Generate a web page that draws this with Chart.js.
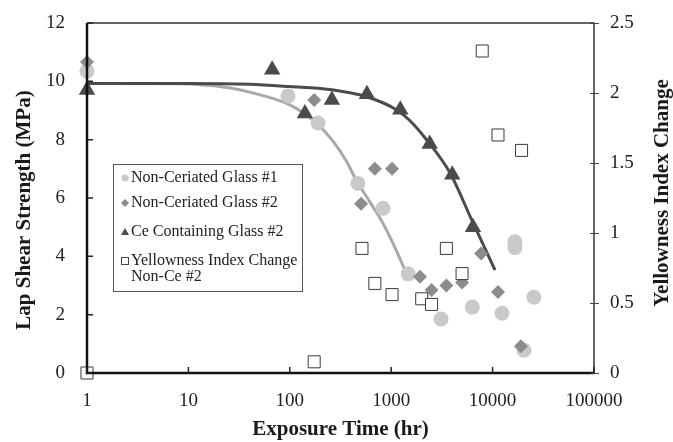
<!DOCTYPE html>
<html>
<head>
<meta charset="utf-8">
<script src="https://cdn.jsdelivr.net/npm/chart.js@4.4.1/dist/chart.umd.min.js"></script>
<style>
  html, body { margin: 0; padding: 0; background: #fff; }
</style>
</head>
<body>
<canvas id="grafico" width="673" height="442"></canvas>
<script>
const FONTE = "'Liberation Serif', 'Times New Roman', serif";

// eixo x (hr)
const tickHoras = [1, 10, 100, 1000, 10000, 100000];

// Non-Ceriated Glass #1
const horasVidro1 = [1, 96, 190, 470, 830, 1470, 3100, 6300, 12400, 16600, 16600, 20400, 25500];
const forcaVidro1 = [10.35, 9.5, 8.57, 6.5, 5.65, 3.4, 1.85, 2.26, 2.05, 4.5, 4.3, 0.78, 2.6];

// Non-Ceriated Glass #2
const horasVidro2 = [1, 174, 505, 690, 1020, 1920, 2500, 3500, 5000, 7700, 11300, 19000];
const forcaVidro2 = [10.66, 9.36, 5.8, 7.0, 7.0, 3.3, 2.85, 3.0, 3.1, 4.1, 2.78, 0.92];

// Ce Containing Glass #2
const horasCe = [1, 67, 141, 260, 577, 1230, 2400, 4000, 6400];
const forcaCe = [9.7, 10.4, 8.9, 9.36, 9.56, 9.03, 7.85, 6.8, 5.0];

// Yellowness Index Change Non-Ce #2 (eixo direito)
const horasAmarelo = [1, 174, 515, 690, 1020, 2000, 2500, 3500, 5000, 7900, 11300, 19300];
const indiceAmarelo = [0, 0.08, 0.89, 0.64, 0.56, 0.53, 0.49, 0.89, 0.71, 2.30, 1.70, 1.59];

// curvas de ajuste
const horasAjuste1 = [1, 8, 25, 40, 100, 184, 269, 364, 457, 618, 806, 1050, 1368];
const forcaAjuste1 = [9.93, 9.92, 9.78, 9.63, 9.19, 8.56, 7.93, 7.24, 6.58, 5.86, 5.21, 4.42, 3.53];

const horasAjusteCe = [1, 10, 40, 100, 249, 573, 1133, 1532, 2240, 3820, 6220, 10570];
const forcaAjusteCe = [9.93, 9.93, 9.9, 9.82, 9.72, 9.47, 9.02, 8.65, 7.99, 6.85, 5.25, 3.53];

const ticksForca = [0, 2, 4, 6, 8, 10, 12];
const ticksAmarelo = [0, 0.5, 1, 1.5, 2, 2.5];

function pontos(xs, ys) {
  return xs.map((x, i) => ({ x: x, y: ys[i] }));
}

const COR_VIDRO1 = "#c9c9c9";
const COR_VIDRO2 = "#8c8c8c";
const COR_CE = "#4b4b4b";
const COR_LINHA1 = "#a9a9a9";

// moldura, marcas dos eixos, titulos verticais e legenda
const desenhoExtra = {
  id: "desenhoExtra",
  afterDraw(chart) {
    const ctx = chart.ctx;
    const area = chart.chartArea;
    const sx = chart.scales.x;
    const sy = chart.scales.y;
    const sy2 = chart.scales.y2;
    ctx.save();

    ctx.strokeStyle = "#333";
    ctx.lineWidth = 1.5;
    ctx.beginPath();
    ctx.moveTo(area.left, area.top);
    ctx.lineTo(area.right, area.top);
    ctx.lineTo(area.right, area.bottom);
    ctx.stroke();

    ctx.strokeStyle = "#111";
    ctx.lineWidth = 2.5;
    ctx.beginPath();
    ctx.moveTo(area.left, area.top);
    ctx.lineTo(area.left, area.bottom);
    ctx.lineTo(area.right, area.bottom);
    ctx.stroke();

    ctx.lineWidth = 1.5;
    ctx.strokeStyle = "#222";
    ctx.beginPath();
    tickHoras.forEach(v => {
      const px = sx.getPixelForValue(v);
      ctx.moveTo(px, area.bottom);
      ctx.lineTo(px, area.bottom - 6);
    });
    ticksForca.forEach(v => {
      const py = sy.getPixelForValue(v);
      ctx.moveTo(area.left, py);
      ctx.lineTo(area.left + 6, py);
    });
    ctx.stroke();
    ctx.strokeStyle = "#444";
    ctx.lineWidth = 1;
    ctx.beginPath();
    ticksAmarelo.forEach(v => {
      const py = Math.round(sy2.getPixelForValue(v)) + 0.5;
      ctx.moveTo(area.right - 4, py);
      ctx.lineTo(area.right + 5, py);
    });
    ctx.stroke();

    // titulos verticais, lidos de baixo para cima
    ctx.fillStyle = "#1a1a1a";
    ctx.font = `bold 21px ${FONTE}`;
    ctx.textAlign = "center";
    ctx.textBaseline = "middle";
    ctx.translate(663, 193);
    ctx.rotate(-Math.PI / 2);
    ctx.fillText("Yellowness Index Change", 0, 0);
    ctx.setTransform(1, 0, 0, 1, 0, 0);
    ctx.translate(25, 210);
    ctx.rotate(-Math.PI / 2);
    ctx.fillText("Lap Shear Strength (MPa)", 0, 0);
    ctx.setTransform(1, 0, 0, 1, 0, 0);

    // legenda
    ctx.strokeStyle = "#555";
    ctx.lineWidth = 1;
    ctx.strokeRect(113.5, 164.5, 189, 127);
    ctx.font = `16px ${FONTE}`;
    ctx.textAlign = "left";
    ctx.fillStyle = "#222";
    const itens = [
      { y: 178, texto: "Non-Ceriated Glass #1" },
      { y: 203, texto: "Non-Ceriated Glass #2" },
      { y: 232, texto: "Ce Containing Glass #2" },
      { y: 261, texto: "Yellowness Index Change" },
      { y: 277, texto: "Non-Ce #2" }
    ];
    itens.forEach(it => ctx.fillText(it.texto, 131, it.y));

    ctx.fillStyle = COR_VIDRO1;
    ctx.beginPath();
    ctx.arc(125, 178, 3.6, 0, Math.PI * 2);
    ctx.fill();
    ctx.fillStyle = COR_VIDRO2;
    ctx.beginPath();
    ctx.moveTo(125, 199);
    ctx.lineTo(129, 203);
    ctx.lineTo(125, 207);
    ctx.lineTo(121, 203);
    ctx.closePath();
    ctx.fill();
    ctx.fillStyle = COR_CE;
    ctx.beginPath();
    ctx.moveTo(125, 228);
    ctx.lineTo(129, 235);
    ctx.lineTo(121, 235);
    ctx.closePath();
    ctx.fill();
    ctx.strokeStyle = "#444";
    ctx.strokeRect(121.5, 257.5, 7, 7);

    ctx.restore();
  }
};

// eixos verticais: largura fixa e sem folga extra em cima/embaixo
function ajustaVertical(largura) {
  return s => {
    s.width = largura;
    s.paddingTop = 0;
    s.paddingBottom = 0;
  };
}

const ctx = document.getElementById("grafico").getContext("2d");

new Chart(ctx, {
  type: "scatter",
  data: {
    datasets: [
      {
        label: "Ajuste Non-Ceriated",
        data: pontos(horasAjuste1, forcaAjuste1),
        showLine: true,
        borderColor: COR_LINHA1,
        borderWidth: 3,
        pointRadius: 0,
        cubicInterpolationMode: "monotone",
        yAxisID: "y",
        clip: false,
        order: 10
      },
      {
        label: "Ajuste Ce",
        data: pontos(horasAjusteCe, forcaAjusteCe),
        showLine: true,
        borderColor: COR_CE,
        borderWidth: 3,
        pointRadius: 0,
        cubicInterpolationMode: "monotone",
        yAxisID: "y",
        clip: false,
        order: 9
      },
      {
        label: "Non-Ceriated Glass #1",
        data: pontos(horasVidro1, forcaVidro1),
        pointStyle: "circle",
        pointRadius: 7.5,
        backgroundColor: COR_VIDRO1,
        borderWidth: 0,
        yAxisID: "y",
        clip: false,
        order: 4
      },
      {
        label: "Non-Ceriated Glass #2",
        data: pontos(horasVidro2, forcaVidro2),
        pointStyle: "rectRot",
        pointRadius: 7,
        backgroundColor: COR_VIDRO2,
        borderWidth: 0,
        yAxisID: "y",
        clip: false,
        order: 3
      },
      {
        label: "Ce Containing Glass #2",
        data: pontos(horasCe, forcaCe),
        pointStyle: "triangle",
        pointRadius: 9.5,
        backgroundColor: COR_CE,
        borderWidth: 0,
        yAxisID: "y",
        clip: false,
        order: 2
      },
      {
        label: "Yellowness Index Change Non-Ce #2",
        data: pontos(horasAmarelo, indiceAmarelo),
        pointStyle: "rect",
        pointRadius: 8.5,
        backgroundColor: "#fff",
        borderColor: "#3a3a3a",
        borderWidth: 1,
        yAxisID: "y2",
        clip: false,
        order: 1
      }
    ]
  },
  options: {
    responsive: false,
    animation: false,
    devicePixelRatio: 1,
    layout: { padding: { top: 23, left: 0, right: 0, bottom: 0 } },
    plugins: {
      legend: { display: false },
      tooltip: { enabled: false }
    },
    scales: {
      x: {
        type: "logarithmic",
        position: "bottom",
        min: 1,
        max: 100000,
        afterBuildTicks: s => { s.ticks = tickHoras.map(v => ({ value: v })); },
        afterFit: s => { s.height = 69; },
        grid: { display: false, drawTicks: false },
        border: { display: false },
        ticks: {
          padding: 17,
          color: "#222",
          autoSkip: false,
          maxRotation: 0,
          font: { family: FONTE, size: 19 },
          callback: v => String(v)
        },
        title: {
          display: true,
          text: "Exposure Time (hr)",
          color: "#1a1a1a",
          font: { family: FONTE, size: 21, weight: "bold" },
          padding: { top: 0, bottom: 0 }
        }
      },
      y: {
        position: "left",
        min: 0,
        max: 12,
        afterBuildTicks: s => { s.ticks = ticksForca.map(v => ({ value: v })); },
        afterFit: ajustaVertical(87),
        grid: { display: false, drawTicks: false },
        border: { display: false },
        ticks: {
          padding: 22,
          color: "#222",
          font: { family: FONTE, size: 19 }
        }
      },
      y2: {
        position: "right",
        min: 0,
        max: 2.5,
        afterBuildTicks: s => { s.ticks = ticksAmarelo.map(v => ({ value: v })); },
        afterFit: ajustaVertical(79),
        grid: { display: false, drawTicks: false },
        border: { display: false },
        ticks: {
          padding: 16,
          color: "#222",
          font: { family: FONTE, size: 19 },
          callback: v => String(v)
        }
      }
    }
  },
  plugins: [desenhoExtra]
});
</script>
</body>
</html>
